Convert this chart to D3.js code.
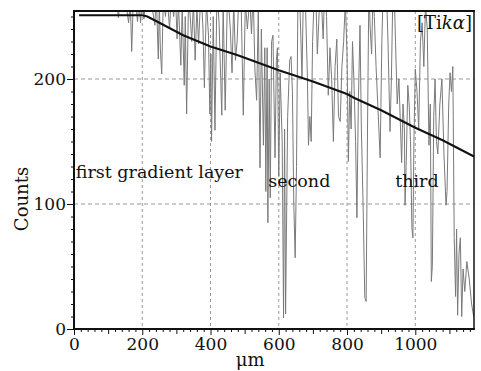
<!DOCTYPE html>
<html>
<head>
<meta charset="utf-8">
<script src="https://cdn.jsdelivr.net/npm/d3@7"></script>
<style>
  body { margin: 0; background: #fff; }
  svg text { font-family: "DejaVu Serif", serif; fill: #111; }
</style>
</head>
<body>
<div id="chart"></div>
<script>
// smooth fitted profile (black)
const fitTrace = [
  [15, 251], [100, 251], [200, 251], [215, 250], [250, 245], [320, 235],
  [400, 226], [480, 219], [560, 211], [600, 207], [700, 198], [800, 188],
  [820, 185], [900, 175], [1000, 161], [1080, 151], [1172, 138]
];

// measured counts (grey), values above the frame get clipped
const countTrace = [
  [0, 270], [110, 268], [125, 262], [130, 249], [135, 262], [150, 265], [160, 245],
  [165, 262], [169, 222], [174, 265], [182, 258], [186, 246], [190, 262], [195, 245],
  [200, 266], [205, 248], [212, 270], [225, 262], [232, 252], [237, 243], [241, 268],
  [247, 216], [250, 262], [253, 224], [257, 204], [262, 268], [268, 250], [273, 266],
  [280, 240], [285, 268], [292, 250], [297, 270], [302, 232], [306, 262], [313, 211],
  [317, 258], [323, 195], [326, 250], [330, 172], [336, 270], [345, 230], [350, 262],
  [355, 215], [360, 258], [365, 228], [372, 272], [378, 240], [382, 193], [388, 262],
  [394, 235], [398, 172], [401, 220], [403, 150], [408, 250], [413, 159], [419, 272],
  [425, 245], [433, 171], [437, 260], [443, 175], [450, 272], [458, 240], [463, 205],
  [468, 262], [473, 215], [478, 230], [483, 268], [489, 272], [496, 171], [502, 262],
  [508, 240], [515, 265], [520, 236], [525, 270], [530, 208], [535, 183], [540, 255],
  [545, 129], [549, 240], [555, 147], [559, 225], [562, 110], [566, 225], [568, 85],
  [572, 200], [575, 105], [579, 230], [583, 235], [589, 137], [593, 215], [596, 225],
  [600, 122], [604, 205], [610, 150], [614, 9], [617, 160], [620, 12], [626, 170],
  [632, 215], [636, 218], [640, 190], [644, 100], [648, 57], [652, 130], [656, 262],
  [660, 272], [664, 240], [668, 200], [672, 270], [678, 262], [684, 200], [687, 147],
  [691, 170], [695, 150], [699, 230], [703, 260], [708, 272], [713, 220], [717, 245],
  [721, 272], [725, 262], [730, 232], [735, 276], [740, 250], [745, 187], [750, 225],
  [755, 200], [760, 150], [765, 210], [770, 232], [775, 170], [780, 166], [785, 210],
  [790, 230], [795, 262], [800, 220], [804, 134], [808, 190], [812, 160], [816, 230],
  [820, 200], [825, 150], [829, 89], [833, 180], [838, 243], [842, 160], [847, 100],
  [852, 25], [856, 22], [860, 160], [864, 272], [868, 240], [872, 220], [876, 268],
  [880, 250], [885, 210], [890, 180], [897, 137], [902, 230], [906, 272], [910, 258],
  [915, 275], [920, 230], [926, 158], [930, 200], [934, 265], [938, 272], [942, 230],
  [947, 180], [952, 200], [960, 133], [964, 180], [968, 160], [970, 99], [974, 140],
  [978, 195], [982, 180], [986, 150], [990, 81], [993, 73], [996, 150], [1000, 208],
  [1005, 190], [1010, 160], [1015, 230], [1020, 245], [1025, 210], [1030, 260],
  [1035, 240], [1040, 147], [1044, 180], [1047, 38], [1050, 51], [1054, 170],
  [1058, 200], [1062, 150], [1066, 140], [1072, 180], [1078, 200], [1084, 140],
  [1090, 99], [1093, 110], [1098, 180], [1102, 205], [1106, 190], [1110, 210],
  [1114, 73], [1118, 26], [1121, 80], [1124, 11], [1128, 60], [1132, 73], [1136, 10],
  [1140, 48], [1145, 30], [1151, 54], [1158, 40], [1165, 20], [1171, 10]
];

const xDomain = [0, 1172];
const yDomain = [0, 254.4];
const xMajorTicks = [0, 200, 400, 600, 800, 1000];
const yMajorTicks = [0, 100, 200];
const xGridTicks = [200, 400, 600, 800, 1000];
const yGridTicks = [100, 200];

// annotations: [text, x, y] in data units
const layerLabels = [
  ["first gradient layer", 5, 121],
  ["second", 569, 114],
  ["third", 941, 114]
];

const margin = { top: 11, right: 7, bottom: 42, left: 74 };
const width = 481 - margin.left - margin.right;
const height = 371 - margin.top - margin.bottom;

const svg = d3.select("#chart").append("svg")
  .attr("width", 481)
  .attr("height", 371)
  .append("g")
  .attr("transform", `translate(${margin.left}, ${margin.top})`);

const x = d3.scaleLinear().domain(xDomain).range([0, width]);
const y = d3.scaleLinear().domain(yDomain).range([height, 0]);

// grid
svg.append("g").selectAll("line.vg")
  .data(xGridTicks).enter().append("line")
  .attr("x1", d => x(d)).attr("x2", d => x(d))
  .attr("y1", 0).attr("y2", height)
  .attr("stroke", "#999").attr("stroke-width", 1)
  .attr("stroke-dasharray", "3,3");

svg.append("g").selectAll("line.hg")
  .data(yGridTicks).enter().append("line")
  .attr("x1", 0).attr("x2", width)
  .attr("y1", d => y(d)).attr("y2", d => y(d))
  .attr("stroke", "#999").attr("stroke-width", 1)
  .attr("stroke-dasharray", "4,3");

svg.append("clipPath").attr("id", "plot-clip")
  .append("rect").attr("width", width).attr("height", height);

const line = d3.line()
  .x(d => x(d[0]))
  .y(d => y(d[1]));

svg.append("path")
  .datum(countTrace)
  .attr("clip-path", "url(#plot-clip)")
  .attr("fill", "none")
  .attr("stroke", "#7a7a7a")
  .attr("stroke-width", 1)
  .attr("d", line);

svg.append("path")
  .datum(fitTrace)
  .attr("fill", "none")
  .attr("stroke", "#111")
  .attr("stroke-width", 2)
  .attr("d", line);

// axes
const xAxis = svg.append("g")
  .attr("transform", `translate(0, ${height})`)
  .call(d3.axisBottom(x)
    .tickValues(d3.range(0, 1172, 20))
    .tickSizeOuter(0)
    .tickFormat(d => xMajorTicks.includes(d) ? d : ""));

xAxis.selectAll(".tick line")
  .attr("y2", d => d % 200 === 0 ? 6 : d % 100 === 0 ? 5 : 3)
  .attr("stroke", "#111");
xAxis.selectAll(".tick text")
  .attr("y", 9)
  .style("font-size", "17px");

const yAxis = svg.append("g")
  .call(d3.axisLeft(y)
    .tickValues(d3.range(0, 255, 10))
    .tickSizeOuter(0)
    .tickFormat(d => yMajorTicks.includes(d) ? d : ""));

yAxis.selectAll(".tick line")
  .attr("x2", d => d % 100 === 0 ? -7 : -3)
  .attr("stroke", "#111");
yAxis.selectAll(".tick text")
  .attr("x", -8)
  .attr("dy", "0.35em")
  .style("font-size", "17px");

xAxis.attr("font-family", null).attr("font-size", null);
yAxis.attr("font-family", null).attr("font-size", null);
xAxis.select(".domain").remove();
yAxis.select(".domain").remove();

// frame
svg.append("line").attr("x1", 0).attr("x2", 0).attr("y1", 0).attr("y2", height + 1)
  .attr("stroke", "#111").attr("stroke-width", 2);
svg.append("line").attr("x1", -1).attr("x2", width + 1).attr("y1", height).attr("y2", height)
  .attr("stroke", "#111").attr("stroke-width", 2);
svg.append("line").attr("x1", -1).attr("x2", width + 1).attr("y1", 0).attr("y2", 0)
  .attr("stroke", "#111").attr("stroke-width", 2);
svg.append("line").attr("x1", width).attr("x2", width).attr("y1", 0).attr("y2", height)
  .attr("stroke", "#111").attr("stroke-width", 1.5);

// labels
svg.selectAll("text.layer")
  .data(layerLabels).enter().append("text")
  .attr("class", "layer")
  .attr("x", d => x(d[1]))
  .attr("y", d => y(d[2]))
  .style("font-size", "17.5px")
  .text(d => d[0]);

const tag = svg.append("text")
  .attr("x", x(1166))
  .attr("y", y(240))
  .attr("text-anchor", "end")
  .style("font-size", "18px");
tag.append("tspan").text("[Ti");
tag.append("tspan").style("font-style", "italic").text("kα");
tag.append("tspan").text("]");

svg.append("text")
  .attr("transform", `translate(${-46}, ${y(104)}) rotate(-90)`)
  .attr("text-anchor", "middle")
  .style("font-size", "18px")
  .text("Counts");

svg.append("text")
  .attr("x", x(516))
  .attr("y", height + 37)
  .attr("text-anchor", "middle")
  .style("font-size", "18px")
  .text("μm");
</script>
</body>
</html>
